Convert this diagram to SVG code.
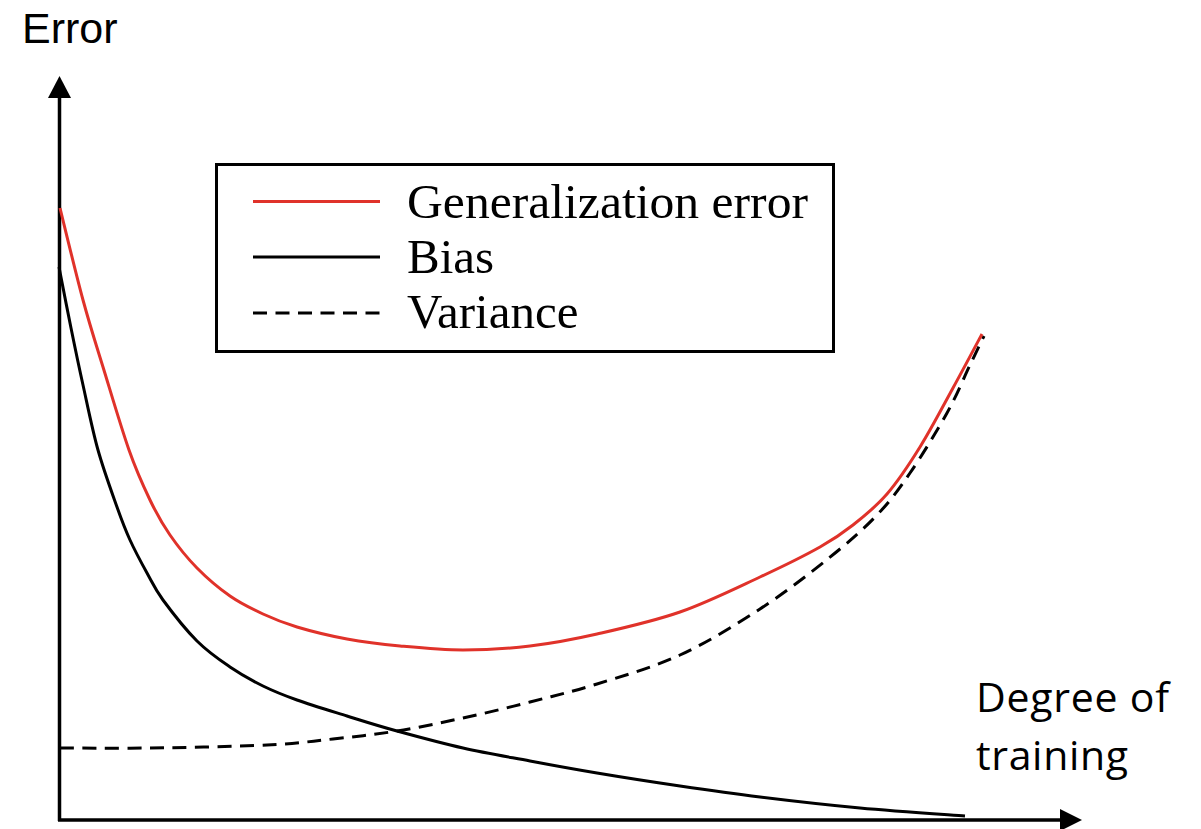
<svg xmlns="http://www.w3.org/2000/svg" width="1201" height="829" viewBox="0 0 1201 829">
<style>
.axis{stroke:#000;stroke-width:3.5;fill:none}
.curve{fill:none;stroke-width:3;stroke-linecap:butt;stroke-linejoin:round}
.gen{stroke:#e0322a}
.bias{stroke:#000}
.var{stroke:#000;stroke-dasharray:14 8.5}
.lbl{font-family:"Liberation Sans",Arial,sans-serif;fill:#000}
.lbl2{font-family:"Open Sans","Liberation Sans",sans-serif;fill:#000}
.leg{font-family:"Liberation Serif","Times New Roman",serif;font-size:49px;fill:#000}
</style>
<rect width="1201" height="829" fill="#fff"/>
<g id="axes">
  <line class="axis" x1="59.5" y1="821" x2="59.5" y2="96"/>
  <polygon points="59.5,76 48,98 71,98" fill="#000"/>
  <line class="axis" x1="58" y1="820" x2="1062" y2="820"/>
  <polygon points="1082,820 1060,809 1060,831" fill="#000"/>
  <text class="lbl" x="22" y="42.5" font-size="43">Error</text>
  <text class="lbl2" x="976" y="711.5" font-size="41" textLength="193" lengthAdjust="spacing">Degree of</text>
  <text class="lbl2" x="976" y="770" font-size="41" textLength="152" lengthAdjust="spacing">training</text>
</g>
<g id="curves">
  <path id="variance" class="curve var" d="M60,748 C75,748 115.5,748.5 150,748 C184.5,747.5 236.5,746.5 267,745 C297.5,743.5 311.3,741.3 333,739 C354.7,736.7 375.3,734.5 397,731 C418.7,727.5 440.8,722.8 463,718 C485.2,713.2 507.7,707.7 530,702 C552.3,696.3 572,691.8 597,684 C622,676.2 652.8,667.5 680,655 C707.2,642.5 735.2,625.2 760,609 C784.8,592.8 809.5,573.7 829,558 C848.5,542.3 863.5,529.2 877,515 C890.5,500.8 898.3,490 910,473 C921.7,456 937,431 947,413 C957,395 963.8,377.8 970,365 C976.2,352.2 981.7,340.8 984,336"/>
  <path id="bias" class="curve bias" d="M59,267 C61,277.2 67,308.3 71,328 C75,347.7 78.5,364.7 83,385 C87.5,405.3 92.3,429.7 98,450 C103.7,470.3 111.7,492 117,507 C122.3,522 125,529 130,540 C135,551 141.5,563 147,573 C152.5,583 154.7,588.7 163,600 C171.3,611.3 185.8,629.8 197,641 C208.2,652.2 219,659.5 230,667 C241,674.5 251.8,680.5 263,686 C274.2,691.5 283,695 297,700 C311,705 330.3,710.8 347,716 C363.7,721.2 377.7,725.7 397,731 C416.3,736.3 440.8,743 463,748 C485.2,753 507.7,756.8 530,761 C552.3,765.2 572,768.8 597,773 C622,777.2 652.8,782 680,786 C707.2,790 730,793.3 760,797 C790,800.7 825.8,804.8 860,808 C894.2,811.2 947.5,814.7 965,816"/>
  <path id="generalization" class="curve gen" d="M60,208 C63.8,223.3 75.8,273.5 83,300 C90.2,326.5 95.3,342 103,367 C110.7,392 121.2,427.8 129,450 C136.8,472.2 143.2,485.8 150,500 C156.8,514.2 162.2,523.7 170,535 C177.8,546.3 187,557.8 197,568 C207,578.2 219,588.3 230,596 C241,603.7 251.8,608.8 263,614 C274.2,619.2 283,622.8 297,627 C311,631.2 329.8,635.8 347,639 C364.2,642.2 380.7,644.2 400,646 C419.3,647.8 441.3,650 463,650 C484.7,650 507.7,648.7 530,646 C552.3,643.3 572,639.7 597,634 C622,628.3 652.8,621.5 680,612 C707.2,602.5 736.7,587.8 760,577 C783.3,566.2 804.5,555.7 820,547 C835.5,538.3 841.8,533.8 853,525 C864.2,516.2 875.8,507 887,494 C898.2,481 909,464.7 920,447 C931,429.3 942.7,406.8 953,388 C963.3,369.2 977.2,343 982,334"/>
</g>
<g id="legend">
  <rect x="216.5" y="164.5" width="617" height="187" fill="#fff" stroke="#000" stroke-width="3"/>
  <line class="curve gen" x1="253" y1="201.5" x2="380" y2="201.5"/>
  <line class="curve bias" x1="253" y1="257" x2="380" y2="257"/>
  <line class="curve var" x1="253" y1="313" x2="380" y2="313"/>
  <text class="leg" x="407" y="218" textLength="401" lengthAdjust="spacingAndGlyphs">Generalization error</text>
  <text class="leg" x="407" y="273">Bias</text>
  <text class="leg" x="407" y="328">Variance</text>
</g>
</svg>
